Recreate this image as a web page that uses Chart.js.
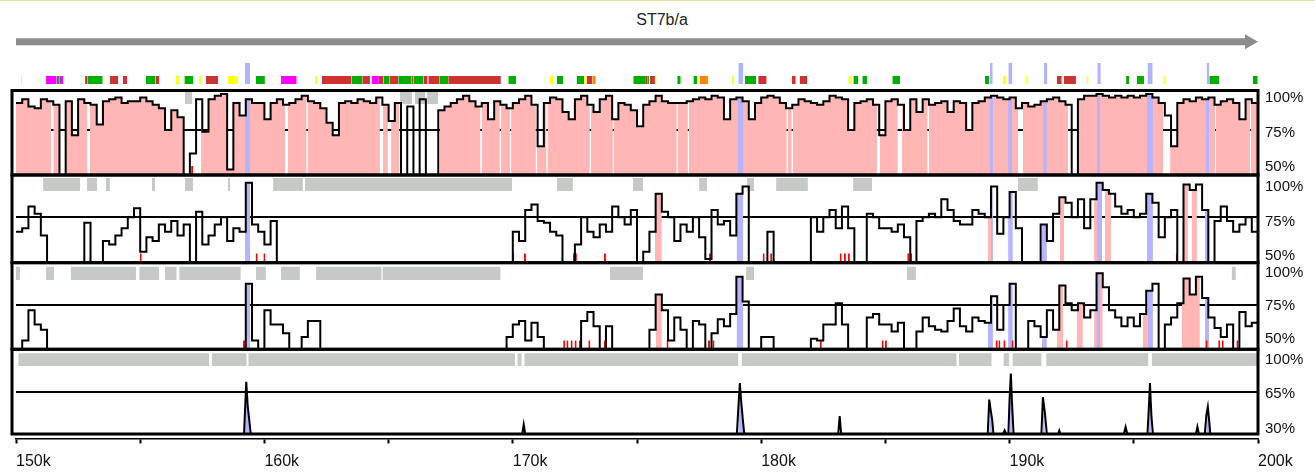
<!DOCTYPE html>
<html>
<head>
<meta charset="utf-8">
<script src="https://cdn.jsdelivr.net/npm/chart.js@4.4.1/dist/chart.umd.min.js"></script>
<style>
  html, body { margin: 0; padding: 0; background: #fff; }
  body { width: 1315px; height: 472px; position: relative; overflow: hidden; font-family: "Liberation Sans", Arial, sans-serif; }
  #topline { position: absolute; left: 0; top: 0; width: 1315px; height: 1px; background: #e4e0a4; }
  #title { position: absolute; left: 0; top: 11px; width: 1324px; text-align: center; font-size: 16px; line-height: 18px; color: #222; }
  canvas { position: absolute; left: 0; }
</style>
</head>
<body>
<div id="topline"></div>
<div id="title">ST7b/a</div>
<canvas id="feat" width="1315" height="60" style="top:28px"></canvas>
<canvas id="p1" width="1315" height="93" style="top:86px"></canvas>
<canvas id="p2" width="1315" height="96" style="top:171px"></canvas>
<canvas id="p3" width="1315" height="96" style="top:258px"></canvas>
<canvas id="p4" width="1315" height="127" style="top:345px"></canvas>
<script>
// positions in kb, conservation in %
const xStart = 150, xEnd = 200, step = 0.25;
const geneSpan = [150.0, 200.0];

// panel 1 (sampled every 0.25 kb)
const cons1 = [
  90,92,88,87,92,91,89,50,91,72, 92,90,89,78,91,92,93,90,91,91,
  93,91,89,87,75,86,82,50,62,92, 74,92,94,95,53,90,83,92,90,90,
  81,90,92,89,90,92,94,91,90,87, 79,72,90,91,90,92,91,90,93,89,
  80,90,50,88,50,92,50,50,86,88, 90,92,94,91,88,90,81,91,89,87,
  90,92,94,89,66,90,93,92,85,81, 92,94,89,85,92,94,81,90,89,86,
  77,89,91,94,91,90,90,90,91,92, 93,92,94,93,81,92,93,91,81,90,
  93,94,93,90,87,89,92,91,90,89, 91,94,93,92,75,90,91,92,89,72,
  91,92,89,75,92,85,92,89,90,91, 85,91,90,75,90,91,93,94,93,92,
  93,87,90,88,89,91,92,93,91,89, 50,92,94,94,95,94,93,94,93,94,
  93,94,95,93,90,83,66,90,92,91, 93,92,93,89,91,92,90,81,92,90,
  90
];
const cons2 = [
  67,69,81,77,65,50,50,50,50,50, 50,72,50,50,62,60,65,69,75,80,
  56,64,62,71,67,73,65,71,50,78, 60,65,71,75,62,69,67,94,71,67,
  60,73,50,50,50,50,50,50,50,50, 50,50,50,50,50,50,50,50,50,50,
  50,50,50,50,50,50,50,50,50,50, 50,50,50,50,50,50,50,50,50,50,
  67,62,79,82,73,72,67,65,50,50, 60,75,67,64,71,67,81,75,71,79,
  50,56,67,88,78,75,62,71,67,75, 64,52,79,71,73,65,88,92,50,50,
  50,67,50,50,50,50,50,50,75,67, 75,79,69,81,69,50,50,77,75,69,
  69,67,71,64,50,73,75,77,75,85, 79,73,71,71,79,77,75,92,66,75,
  89,69,50,50,50,71,62,77,86,83, 75,85,69,85,94,90,88,81,77,79,
  75,77,88,83,64,75,79,50,93,90, 93,79,50,73,81,73,67,71,75,67,
  75
];
const cons3 = [
  50,55,72,64,61,50,50,50,50,50, 50,50,50,50,50,50,50,50,50,50,
  50,50,50,50,50,50,50,50,50,50, 50,50,50,50,50,50,50,87,55,50,
  72,64,64,59,50,50,57,66,66,50, 50,50,50,50,50,50,50,50,50,50,
  50,50,50,50,50,50,50,50,50,50, 50,50,50,50,50,50,50,50,50,57,
  64,66,55,65,57,50,50,50,50,50, 50,66,71,63,50,63,50,50,50,50,
  50,50,61,81,72,55,68,61,50,66, 64,50,59,67,63,70,91,77,50,50,
  57,57,50,50,50,50,50,50,56,55, 64,64,76,64,50,50,50,68,70,64,
  64,60,65,50,50,60,68,63,61,60, 66,73,63,60,68,66,65,80,61,75,
  87,50,50,66,63,57,72,61,86,76, 72,76,68,72,93,85,72,68,63,68,
  63,70,83,87,50,64,68,76,90,81, 91,79,68,62,57,64,50,71,63,65,
  50
];
// panel 4 is mostly flat, so it is kept as position/value pairs
const p4Pos = [150, 159.18, 159.22, 159.27, 159.33, 159.4, 159.45, 170.38, 170.44, 170.5,
  179.02, 179.08, 179.14, 179.2, 179.27, 179.32, 183.1, 183.16, 183.22,
  189.12, 189.18, 189.24, 189.3, 189.35, 189.74, 189.8, 189.86,
  189.95, 190.0, 190.05, 190.1, 190.16, 191.28, 191.34, 191.42, 191.5,
  191.95, 192.0, 192.05, 194.6, 194.67, 194.74, 195.55, 195.6, 195.65, 195.71, 195.77,
  197.5, 197.56, 197.62, 197.86, 197.92, 197.98, 198.04, 198.08, 200];
const p4Val = [30, 30, 50, 74, 53, 40, 30, 30, 38, 30,
  30, 52, 73, 56, 40, 30, 30, 45, 30,
  30, 59, 50, 42, 30, 30, 33, 30,
  30, 60, 81, 55, 30, 30, 61, 48, 30,
  30, 33, 30, 30, 36, 30, 30, 50, 73, 45, 30,
  30, 36, 30, 30, 46, 53, 40, 30, 30];

// conserved regions (kb)
const pink1 = [[150.0,151.41],[151.5,152.87],[152.98,156.72],[157.45,160.83],[160.95,161.7],[161.75,164.65],
  [164.77,164.97],[165.1,165.43],[167.07,168.7],[168.75,169.48],[169.52,169.89],[169.93,170.93],[170.97,171.36],
  [171.4,173.1],[173.15,174.03],[174.07,176.6],[176.65,177.05],[177.09,181.03],[181.07,181.23],[181.27,184.66],
  [184.78,185.5],[185.67,186.7],[186.75,190.34],[190.54,192.35],[192.55,196.18],[196.46,198.27],[198.31,199.68],[199.72,200]];
const blue1 = [[159.22,159.42],[179.05,179.28],[189.2,189.33],[189.94,190.1],[191.35,191.5],[193.52,193.64],[195.53,195.77],[197.9,198.03]];
const pink2 = [[175.72,176.0],[189.13,189.25],[192.03,192.19],[193.4,193.52],[193.84,194.08],[196.98,197.18],[197.34,197.54]];
const blue2 = [[159.22,159.42],[179.01,179.28],[189.25,189.33],[189.94,190.13],[191.3,191.5],[193.52,193.72],[195.53,195.77],[197.86,198.03]];
const pink3 = [[175.76,176.0],[191.9,192.15],[192.7,192.95],[193.4,193.75],[195.37,195.57],[196.94,197.66]];
const blue3 = [[159.22,159.42],[179.01,179.28],[189.13,189.33],[189.94,190.13],[191.3,191.5],[193.5,193.64],[195.57,195.77],[197.86,198.03]];
const blue4 = [[159.22,159.4],[179.08,179.27],[189.18,189.3],[190.0,190.1],[191.34,191.42],[195.6,195.71],[197.92,198.04]];

// red marks at panel bottoms (kb)
const red1 = [157.09];
const red2 = [155.02,159.69,160.0,170.02,170.49,172.46,172.54,173.71,177.94,180.1,180.4,183.2,183.37,183.53,185.92,186.04,196.73];
const red3 = [159.18,172.07,172.2,172.37,172.53,172.7,173.08,173.71,176.23,177.9,178.08,182.4,184.89,185.02,189.48,189.59,189.79,190.12,192.3,197.93,198.44,198.58,199.17];

// grey bars along the top of each panel (kb)
const gray1 = [[156.8,157.09],[165.46,165.94],[166.06,166.47],[166.55,166.99]];
const gray2 = [[151.09,152.58],[152.86,153.26],[153.62,153.78],[155.47,155.6],[156.8,157.13],[158.53,158.62],[160.35,161.55],
  [161.63,169.97],[171.78,172.42],[174.84,175.25],[177.5,177.82],[179.43,179.71],[180.6,181.88],[183.7,184.46],[190.34,191.14]];
const gray3 = [[150.0,150.16],[151.21,151.53],[152.2,154.83],[154.96,155.77],[156.0,156.47],[156.57,159.05],[159.66,160.06],
  [160.67,161.43],[162.08,164.72],[164.75,169.51],[173.91,175.24],[179.39,179.71],[185.86,186.23],[198.94,199.11]];
const gray4 = [[150.09,157.78],[157.88,159.29],[159.35,170.09],[170.18,170.36],[170.46,179.08],[179.21,187.87],[187.96,189.28],
  [189.75,189.99],[190.11,191.29],[191.47,195.59],[195.72,200]];

// annotation track (kb)
const featYellow = [[150.19,150.25],[156.44,156.57],[157.37,157.5],[158.52,158.92],[162.04,162.15],[171.47,171.63],[172.87,172.97],
  [175.72,175.79],[178.81,178.9],[183.51,183.64],[189.72,189.88],[190.65,190.73],[193.1,193.18],[196.19,196.27]];
const featMagenta = [[151.2,151.64],[151.74,151.9],[160.67,161.3],[164.32,164.61],[166.56,166.61]];
const featGreen = [[151.64,151.74],[152.87,153.49],[155.22,155.62],[156.78,157.14],[159.65,160.02],[163.51,163.94],[164.79,165.03],
  [165.39,165.93],[166.0,166.4],[167.04,167.4],[169.82,170.13],[171.77,172.03],[172.57,172.87],[174.85,175.36],[175.41,175.49],
  [176.62,176.76],[177.27,177.43],[179.35,179.79],[183.71,183.91],[184.07,184.27],[185.28,185.59],[189.01,189.17],[194.69,194.82],
  [195.12,195.41],[198.04,198.43],[199.79,199.99]];
const featRed = [[152.78,152.87],[153.78,154.12],[154.3,154.48],[155.62,155.77],[157.65,158.14],[162.31,163.51],[163.94,164.25],
  [164.61,164.79],[165.03,165.39],[165.93,166.0],[166.4,166.56],[166.61,167.04],[167.4,169.52],[172.97,173.2],[175.36,175.41],
  [175.52,175.72],[179.88,180.22],[181.23,181.39],[181.56,181.86],[191.9,192.1],[192.19,192.67]];
const featOrange = [[158.62,158.71],[173.2,173.34],[177.51,177.87]];
const featBlue = [[159.22,159.42],[179.08,179.28],[189.21,189.32],[189.95,190.11],[191.38,191.52],[193.53,193.67],[195.55,195.76],[197.93,198.04]];

Chart.defaults.font.family = '"Liberation Sans", Arial, sans-serif';
Chart.defaults.color = '#111';
Chart.defaults.animation = false;
Chart.defaults.events = [];
Chart.defaults.plugins.legend.display = false;
Chart.defaults.plugins.tooltip.enabled = false;

const positions = cons1.map((_, i) => xStart + i * step);
const PINK = '#ffb6b4', BLUE = '#b4b4ff', GREY = '#c6cac6';

const stepAt = (vals, x) => vals[Math.min(vals.length - 1, Math.floor((x - xStart) / step + 1e-9))];
const curve = vals => vals.map((v, i) => ({ x: positions[i], y: v }));
// part of a stepped curve that lies inside the given regions
const stepFill = (vals, regions) => regions.flatMap(([s, e]) => {
  const pts = [{ x: s, y: stepAt(vals, s) }];
  let last = pts[0].y;
  positions.forEach((p, i) => { if (p > s && p < e) { pts.push({ x: p, y: vals[i] }); last = vals[i]; } });
  pts.push({ x: e, y: last }, { x: e, y: null });
  return pts;
});
const boxes = (regions, top) => regions.flatMap(([s, e]) => [{ x: s, y: top }, { x: e, y: top }, { x: e, y: null }]);
const marks = (list, w) => list.map(c => [c - w / 2, c + w / 2]);
const noPad = s => { s.paddingTop = 0; s.paddingBottom = 0; s.paddingLeft = 0; s.paddingRight = 0; };

const frame = {
  id: 'frame',
  afterDatasetsDraw(chart, _args, opts) {
    const { ctx, chartArea: a } = chart;
    const bottom = opts.bottomValue != null ? chart.scales.y.getPixelForValue(opts.bottomValue) : a.bottom;
    ctx.save();
    ctx.strokeStyle = '#000';
    ctx.lineWidth = 3;
    ctx.strokeRect(a.left - 4, a.top, a.right - a.left + 4, bottom - a.top);
    ctx.restore();
  }
};

const xScale = show => ({
  type: 'linear', min: xStart, max: xEnd, display: show,
  border: { display: true, color: '#000', width: 1.5 },
  grid: { drawOnChartArea: false, drawTicks: true, tickLength: 5, tickWidth: 2, tickColor: '#000' },
  ticks: { stepSize: 5, autoSkip: false, maxRotation: 0, align: 'start', padding: 8, font: { size: 16 }, color: '#111',
    callback: v => (v % 10 === 0 ? v + 'k' : '') },
  afterFit: s => { s.height = show ? 33.5 : 0; noPad(s); }
});

const fillSet = (data, color, stepped, fill) => ({
  data, stepped, fill, backgroundColor: color, borderColor: 'transparent', borderWidth: 0, pointRadius: 0
});

function makePanel(id, c) {
  const datasets = [
    { data: c.line, stepped: c.stepped, borderColor: '#000', borderWidth: 2, pointRadius: 0, fill: false },
    fillSet(boxes(marks(c.red, 0.08), c.redTop), '#ff0000', false, { value: c.base }),
    fillSet(c.blue, BLUE, c.stepped, { value: c.base }),
    fillSet(c.pink, PINK, c.stepped, { value: c.base }),
    fillSet(boxes(c.gray, c.grayTop), GREY, false, { value: c.grayBottom })
  ];
  new Chart(document.getElementById(id), {
    type: 'line',
    data: { datasets },
    options: {
      responsive: false,
      devicePixelRatio: 1,
      layout: { autoPadding: false, padding: { left: 16, right: 0, top: c.padTop, bottom: c.padBottom } },
      elements: { line: { tension: 0 } },
      scales: {
        x: xScale(c.showX),
        y: {
          type: 'linear', position: 'left', min: c.min, max: c.max,
          ticks: { display: false }, border: { display: false },
          grid: { color: '#000', lineWidth: 2, drawTicks: false },
          afterBuildTicks: s => { s.ticks = [{ value: c.mid }]; },
          afterFit: s => { s.width = 0; noPad(s); }
        },
        yl: {
          type: 'linear', position: 'right', min: c.labMin, max: c.labMax,
          grid: { display: false, drawTicks: false }, border: { display: false },
          ticks: { padding: 7, font: { size: 15 }, color: '#111', autoSkip: false, callback: v => v + '%' },
          afterBuildTicks: s => { s.ticks = c.labels.map(v => ({ value: v })); },
          afterFit: s => { s.width = 57; noPad(s); }
        }
      },
      plugins: { frame: { bottomValue: c.frameBottom } }
    },
    plugins: [frame]
  });
}

makePanel('p1', { line: curve(cons1), stepped: 'before', pink: stepFill(cons1, pink1), blue: stepFill(cons1, blue1),
  red: red1, redTop: 55, gray: gray1, grayTop: 96.1, grayBottom: 89.4, base: 50, mid: 75,
  min: 50, max: 96.9, labMin: 44.2, labMax: 105.43, labels: [100, 75, 50], padTop: 4.5, padBottom: 4, showX: false });
makePanel('p2', { line: curve(cons2), stepped: 'before', pink: stepFill(cons2, pink2), blue: stepFill(cons2, blue2),
  red: red2, redTop: 55, gray: gray2, grayTop: 96.65, grayBottom: 89.5, base: 50, mid: 75,
  min: 50, max: 98.3, labMin: 45.15, labMax: 108.7, labels: [100, 75, 50], padTop: 4, padBottom: 4.3, showX: false });
makePanel('p3', { line: curve(cons3), stepped: 'before', pink: stepFill(cons3, pink3), blue: stepFill(cons3, blue3),
  red: red3, redTop: 55, gray: gray3, grayTop: 96.6, grayBottom: 89.1, base: 50, mid: 75,
  min: 50, max: 98.9, labMin: 42.2, labMax: 107.8, labels: [100, 75, 50], padTop: 4.7, padBottom: 4.7, showX: false });

const p4Line = p4Pos.map((x, i) => ({ x, y: p4Val[i] }));
const p4Blue = blue4.flatMap(([s, e]) => [...p4Line.filter(p => p.x >= s && p.x <= e), { x: e, y: null }]);
makePanel('p4', { line: p4Line, stepped: false, pink: [], blue: p4Blue,
  red: [], redTop: 30, gray: gray4, grayTop: 98.0, grayBottom: 87.3, base: 30, mid: 65, frameBottom: 30,
  min: 26.2, max: 101.4, labMin: 19.7, labMax: 111.0, labels: [100, 65, 30], padTop: 4.3, padBottom: 0, showX: true });

// annotation track with the gene arrow
const ARROW = '#8c8c8c';
const featSet = (regions, color, top) => fillSet(boxes(regions, top), color, false, { value: 4 });
new Chart(document.getElementById('feat'), {
  type: 'line',
  data: {
    datasets: [
      { data: [{ x: geneSpan[0], y: 46.3 }, { x: geneSpan[1] - 0.42, y: 46.3 }], borderColor: ARROW, borderWidth: 7, pointRadius: 0, borderCapStyle: 'butt' },
      { data: [{ x: geneSpan[1] - 0.35, y: 46.3 }], showLine: false, pointStyle: 'triangle', rotation: 90, pointRadius: 8.7,
        backgroundColor: ARROW, borderColor: ARROW, borderWidth: 0, clip: false },
      featSet(featYellow, '#ffff22', 12),
      featSet(featMagenta, '#ff00ff', 12),
      featSet(featGreen, '#00b000', 12),
      featSet(featRed, '#cc3333', 12),
      featSet(featOrange, '#ff8800', 12),
      featSet(featBlue, '#b0b4ff', 25)
    ]
  },
  options: {
    responsive: false,
    devicePixelRatio: 1,
    layout: { autoPadding: false, padding: { left: 16, right: 57, top: 0, bottom: 0 } },
    elements: { line: { tension: 0 } },
    scales: {
      x: { type: 'linear', min: xStart, max: xEnd, display: false },
      y: { type: 'linear', min: 0, max: 60, display: false }
    }
  }
});
</script>
</body>
</html>
